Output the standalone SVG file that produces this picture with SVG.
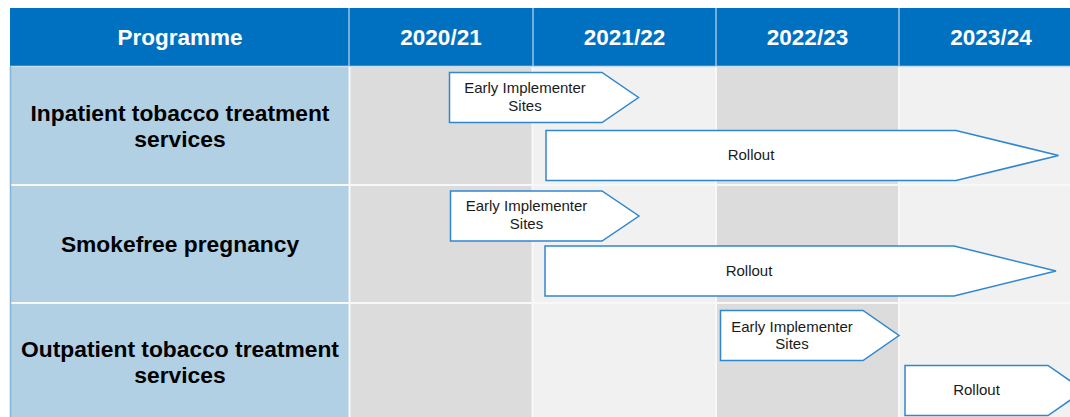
<svg xmlns="http://www.w3.org/2000/svg" width="1070" height="417" viewBox="0 0 1070 417">
<style>
.hdr{font-family:"Liberation Sans",Arial,sans-serif;font-weight:bold;font-size:22.5px;fill:#FFFFFF;text-anchor:middle}
.lbl{font-family:"Liberation Sans",Arial,sans-serif;font-weight:bold;font-size:22.8px;fill:#000000;text-anchor:middle}
.bar{fill:#FFFFFF;stroke:#2F87D0;stroke-width:1.5;stroke-linejoin:miter}
.bt{font-family:"Liberation Sans",Arial,sans-serif;font-size:15px;fill:#1A1A1A;text-anchor:middle}
.dk{fill:#DCDCDC}
.lt{fill:#F1F1F1}
.pg{fill:#B1D0E3}
</style>
<rect x="0" y="0" width="1070" height="417" fill="#FFFFFF"/>
<g id="header">
<rect x="10" y="8" width="1060" height="58" fill="#0070C0"/>
<g stroke="#9CC2E5" stroke-width="1.5">
<line x1="349" y1="8" x2="349" y2="66"/>
<line x1="533" y1="8" x2="533" y2="66"/>
<line x1="716" y1="8" x2="716" y2="66"/>
<line x1="899" y1="8" x2="899" y2="66"/>
</g>
<text class="hdr" x="180" y="45">Programme</text>
<text class="hdr" x="441" y="45">2020/21</text>
<text class="hdr" x="624.5" y="45">2021/22</text>
<text class="hdr" x="807.5" y="45">2022/23</text>
<text class="hdr" x="991" y="45">2023/24</text>
</g>
<g id="grid">
<rect class="pg" x="10" y="66" width="339" height="351"/>
<rect class="dk" x="349" y="66" width="184" height="351"/>
<rect class="lt" x="533" y="66" width="183" height="351"/>
<rect class="dk" x="716" y="66" width="183" height="351"/>
<rect class="lt" x="899" y="66" width="171" height="351"/>
<line x1="10" y1="66.5" x2="1070" y2="66.5" stroke="#C9DDEB" stroke-width="1.5"/>
<g stroke="#F8F8F8" stroke-width="2">
<line x1="10" y1="185" x2="1070" y2="185"/>
<line x1="10" y1="303" x2="1070" y2="303"/>
<line x1="349.5" y1="67" x2="349.5" y2="417"/>
<line x1="532.5" y1="67" x2="532.5" y2="417"/>
<line x1="716" y1="67" x2="716" y2="417"/>
<line x1="899" y1="67" x2="899" y2="417"/>
</g>
<line x1="10.5" y1="66" x2="10.5" y2="417" stroke="#86B4D6" stroke-width="1.5"/>
</g>
<g id="row-inpatient">
<text class="lbl" x="180" y="121">Inpatient tobacco treatment</text>
<text class="lbl" x="180" y="147">services</text>
</g>
<g id="row-pregnancy">
<text class="lbl" x="180" y="251.5">Smokefree pregnancy</text>
</g>
<g id="row-outpatient">
<text class="lbl" x="180" y="357">Outpatient tobacco treatment</text>
<text class="lbl" x="180" y="383">services</text>
</g>
<g id="inpatient-eis">
<polygon class="bar" points="449.5,72.5 602,72.5 638.5,97.5 602,122.5 449.5,122.5"/>
<text class="bt" x="525" y="93">Early Implementer</text>
<text class="bt" x="525" y="111">Sites</text>
</g>
<g id="inpatient-rollout">
<polygon class="bar" points="546,130.5 956,130.5 1058.5,155.5 956,180.5 546,180.5"/>
<text class="bt" x="751" y="160">Rollout</text>
</g>
<g id="pregnancy-eis">
<polygon class="bar" points="450.5,191 602,191 639,216 602,241 450.5,241"/>
<text class="bt" x="526.5" y="211">Early Implementer</text>
<text class="bt" x="526.5" y="228.5">Sites</text>
</g>
<g id="pregnancy-rollout">
<polygon class="bar" points="545,246 954,246 1056,271 954,296 545,296"/>
<text class="bt" x="749" y="275.5">Rollout</text>
</g>
<g id="outpatient-eis">
<polygon class="bar" points="720.5,310.5 863,310.5 899,335.5 863,360.5 720.5,360.5"/>
<text class="bt" x="792" y="331.5">Early Implementer</text>
<text class="bt" x="792" y="349">Sites</text>
</g>
<g id="outpatient-rollout">
<polygon class="bar" points="905,365.5 1048,365.5 1084,390.5 1048,415.5 905,415.5"/>
<text class="bt" x="976.5" y="395">Rollout</text>
</g>
<g id="connectors"/>
</svg>
